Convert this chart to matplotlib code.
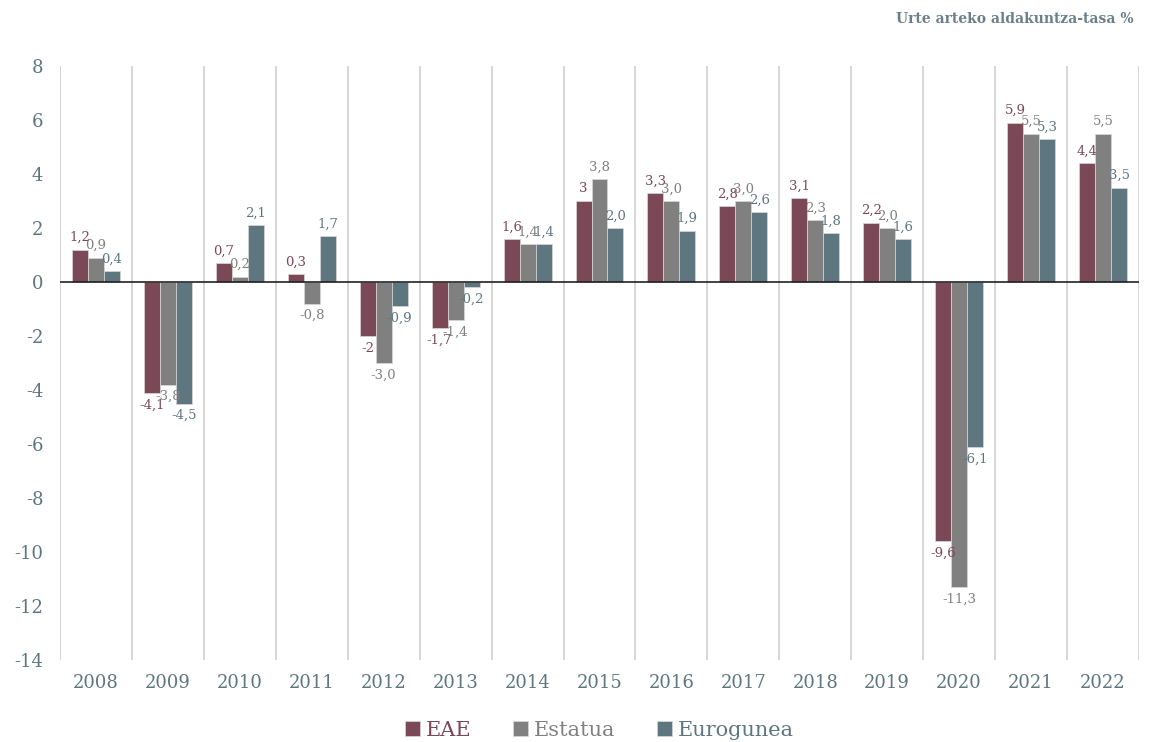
import matplotlib.pyplot as plt
import numpy as np

urteak = ["2008", "2009", "2010", "2011", "2012", "2013", "2014", "2015",
          "2016", "2017", "2018", "2019", "2020", "2021", "2022"]
eae = [1.2, -4.1, 0.7, 0.3, -2.0, -1.7, 1.6, 3.0, 3.3, 2.8, 3.1, 2.2, -9.6, 5.9, 4.4]
estatua = [0.9, -3.8, 0.2, -0.8, -3.0, -1.4, 1.4, 3.8, 3.0, 3.0, 2.3, 2.0, -11.3, 5.5, 5.5]
eurogunea = [0.4, -4.5, 2.1, 1.7, -0.9, -0.2, 1.4, 2.0, 1.9, 2.6, 1.8, 1.6, -6.1, 5.3, 3.5]
eae_lab = ["1,2", "-4,1", "0,7", "0,3", "-2", "-1,7", "1,6", "3", "3,3", "2,8", "3,1", "2,2", "-9,6", "5,9", "4,4"]
estatua_lab = ["0,9", "-3,8", "0,2", "-0,8", "-3,0", "-1,4", "1,4", "3,8", "3,0", "3,0", "2,3", "2,0", "-11,3", "5,5", "5,5"]
eurogunea_lab = ["0,4", "-4,5", "2,1", "1,7", "-0,9", "-0,2", "1,4", "2,0", "1,9", "2,6", "1,8", "1,6", "-6,1", "5,3", "3,5"]
y_ticks = list(range(-14, 9, 2))

plt.rcParams['font.family'] = ['DejaVu Serif']

fig = plt.figure(figsize=(11.51, 7.42), dpi=100)
ax = fig.add_axes([0.0521, 0.1105, 0.9375, 0.8005])

x = np.arange(len(urteak))
w = 0.222
series = [
    ("EAE", eae, eae_lab, "#7b4858"),
    ("Estatua", estatua, estatua_lab, "#808080"),
    ("Eurogunea", eurogunea, eurogunea_lab, "#5e7680"),
]
for i, (name, vals, labs, col) in enumerate(series):
    pos = x + (i - 1) * w
    ax.bar(pos, vals, width=w, color=col, edgecolor="#d8d8d8", linewidth=0.5,
           label=name, zorder=3)
    for px, v, t in zip(pos, vals, labs):
        ax.annotate(t, (px, v), xytext=(0, 4 if v >= 0 else -4),
                    textcoords="offset points", ha="center",
                    va="bottom" if v >= 0 else "top", fontsize=9.5,
                    color=col, zorder=4)

for b in np.arange(len(urteak) + 1) - 0.5:
    ax.axvline(b, color="#d0d0d0", linewidth=1.2, zorder=1)
ax.axhline(0, color="#222222", linewidth=1.2, zorder=5)

ax.set_xlim(-0.5, len(urteak) - 0.5)
ax.set_ylim(-14, 8)
ax.set_yticks(y_ticks)
ax.set_yticklabels([str(v) for v in y_ticks])
ax.set_xticks(x)
ax.set_xticklabels(urteak)
ax.tick_params(axis="both", length=0, labelsize=13, labelcolor="#5e7680")
ax.tick_params(axis="y", pad=12)
ax.tick_params(axis="x", pad=10)
for s in ax.spines.values():
    s.set_visible(False)

fig.text(0.985, 0.975, "Urte arteko aldakuntza-tasa %", ha="right", va="center",
         fontsize=10, fontweight="bold", color="#6a7f88")

leg = ax.legend(loc="center", bbox_to_anchor=(0.5, -0.118), ncol=3,
                frameon=False, fontsize=15, handlelength=0.7, handleheight=0.7,
                handletextpad=0.3, columnspacing=2.0)
for t, (_, _, _, col) in zip(leg.get_texts(), series):
    t.set_color(col)

fig.savefig("out.png", dpi=100)
